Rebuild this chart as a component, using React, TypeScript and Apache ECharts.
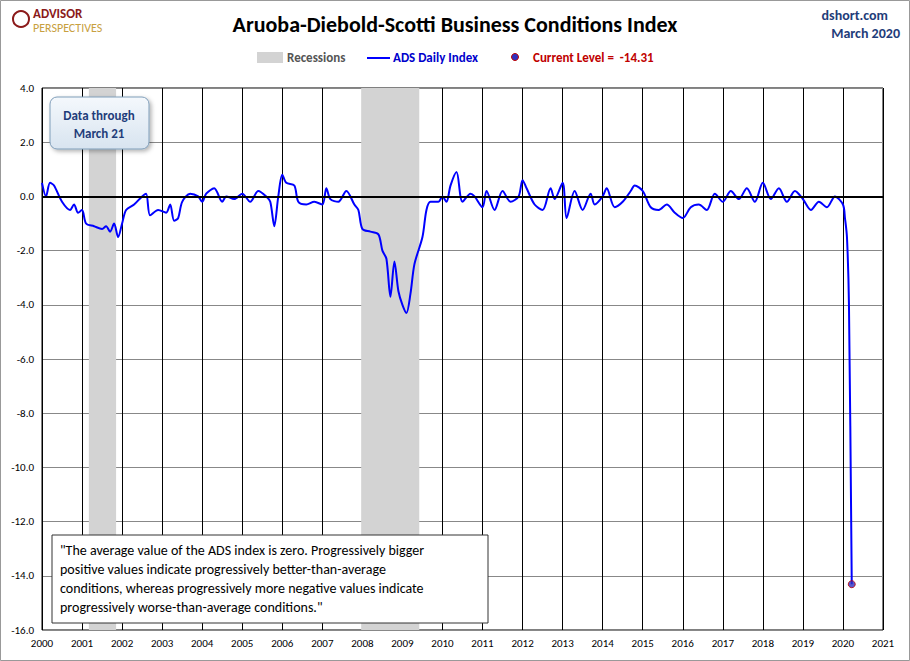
import React, { useEffect, useRef } from "react";
import * as echarts from "echarts";

const years = [2000, 2021];
const adsData: [number, number][] = [
[2000.0,0.5],[2000.1,0.0],[2000.2,0.5],[2000.3,0.4],[2000.5,-0.2],[2000.7,-0.5],[2000.8,-0.3],[2000.9,-0.6],[2001.0,-0.5],[2001.1,-1.0],[2001.3,-1.1],[2001.5,-1.2],[2001.6,-1.1],[2001.7,-1.3],[2001.8,-1.0],[2001.9,-1.5],[2002.0,-1.0],[2002.1,-0.5],[2002.3,-0.3],[2002.5,0.0],[2002.6,0.1],[2002.7,-0.7],[2002.9,-0.5],[2003.1,-0.6],[2003.2,-0.3],[2003.3,-0.9],[2003.4,-0.8],[2003.5,-0.2],[2003.7,0.1],[2003.9,0.0],[2004.0,-0.2],[2004.1,0.1],[2004.3,0.3],[2004.5,-0.2],[2004.6,0.0],[2004.8,-0.1],[2005.0,0.1],[2005.2,-0.2],[2005.4,0.2],[2005.6,0.0],[2005.7,-0.2],[2005.8,-1.1],[2005.9,0.0],[2006.0,0.8],[2006.1,0.5],[2006.3,0.4],[2006.4,-0.2],[2006.6,-0.3],[2006.8,-0.2],[2007.0,-0.3],[2007.1,0.3],[2007.2,-0.1],[2007.4,-0.2],[2007.6,0.2],[2007.8,-0.3],[2007.9,-0.5],[2008.0,-1.2],[2008.2,-1.3],[2008.4,-1.4],[2008.5,-2.0],[2008.6,-2.3],[2008.7,-3.7],[2008.8,-2.4],[2008.9,-3.5],[2009.0,-4.0],[2009.1,-4.3],[2009.2,-3.6],[2009.3,-2.5],[2009.5,-1.5],[2009.6,-0.5],[2009.7,-0.2],[2009.9,-0.2],[2010.0,0.0],[2010.1,-0.2],[2010.2,0.4],[2010.35,0.9],[2010.5,-0.2],[2010.7,0.1],[2010.8,0.0],[2011.0,-0.4],[2011.1,0.2],[2011.3,-0.5],[2011.5,0.2],[2011.7,-0.2],[2011.9,0.0],[2012.0,0.6],[2012.1,0.3],[2012.3,-0.3],[2012.5,-0.5],[2012.7,0.3],[2012.8,-0.1],[2013.0,0.5],[2013.1,-0.8],[2013.3,0.2],[2013.5,-0.5],[2013.7,0.1],[2013.8,-0.3],[2014.0,0.0],[2014.1,0.3],[2014.3,-0.4],[2014.5,-0.2],[2014.7,0.2],[2014.8,0.4],[2015.0,0.2],[2015.2,-0.4],[2015.4,-0.5],[2015.6,-0.3],[2015.8,-0.6],[2016.0,-0.8],[2016.2,-0.4],[2016.4,-0.3],[2016.6,-0.5],[2016.8,0.1],[2017.0,-0.2],[2017.2,0.2],[2017.4,-0.1],[2017.6,0.3],[2017.8,-0.2],[2018.0,0.5],[2018.2,-0.1],[2018.4,0.3],[2018.6,-0.2],[2018.8,0.2],[2019.0,-0.1],[2019.2,-0.5],[2019.4,-0.2],[2019.6,-0.4],[2019.8,0.0],[2020.0,-0.3],[2020.05,-0.8],[2020.1,-1.5],[2020.15,-4.0],[2020.22,-14.31]];
const recessions: [number, number][] = [[2001.17, 2001.85], [2007.97, 2009.42]];
const currentLevel: [number, number] = [2020.22, -14.31];

export default function App() {
  const ref = useRef<HTMLDivElement>(null);
  useEffect(() => {
    const chart = echarts.init(ref.current!, undefined, { renderer: "svg" });
    const font = "Calibri, 'Liberation Sans', Arial, sans-serif";
    chart.setOption({
      animation: false,
      backgroundColor: "#fff",
      textStyle: { fontFamily: font },
      grid: { left: 42, right: 27, top: 88, bottom: 31, show: true, borderColor: "#000", borderWidth: 1 },
      xAxis: {
        type: "value", min: years[0], max: years[1], interval: 1,
        axisLabel: { color: "#000", fontSize: 11, formatter: (v: number) => String(v) },
        axisLine: { show: false }, axisTick: { show: false },
        splitLine: { lineStyle: { color: "#000", width: 1 } },
      },
      yAxis: {
        type: "value", min: -16, max: 4, interval: 2,
        axisLabel: { color: "#000", fontSize: 11, formatter: (v: number) => v.toFixed(1) },
        axisLine: { show: false }, axisTick: { show: false },
        splitLine: { lineStyle: { color: "#888", width: 1 } },
      },
      series: [
        {
          type: "line", data: adsData, smooth: 0.3, showSymbol: false,
          lineStyle: { color: "#0000ff", width: 2 }, z: 3,
          markArea: { silent: true, itemStyle: { color: "#d3d3d3" },
            data: recessions.map(r => [{ xAxis: r[0] }, { xAxis: r[1] }]) },
          markLine: { silent: true, symbol: "none", label: { show: false },
            lineStyle: { color: "#000", width: 2, type: "solid" }, data: [{ yAxis: 0 }] },
        },
        {
          type: "scatter", data: [currentLevel], symbolSize: 7, z: 4,
          itemStyle: { color: "#3030c0", borderColor: "#c00000", borderWidth: 1 },
        },
      ],
      graphic: [
        { type: "rect", shape: { x: 0.5, y: 0.5, width: 909, height: 660 }, style: { fill: "none", stroke: "#999" } },
        { type: "text", x: 455, y: 13, style: { text: "Aruoba-Diebold-Scotti Business Conditions Index", font: `bold 22px ${font}`, fill: "#000", textAlign: "center" } },
        { type: "text", x: 888, y: 8, style: { text: "dshort.com", font: `bold 14px ${font}`, fill: "#1f3d7a", textAlign: "right" } },
        { type: "text", x: 900, y: 26, style: { text: "March 2020", font: `bold 14px ${font}`, fill: "#1f3d7a", textAlign: "right" } },
        { type: "circle", shape: { cx: 21, cy: 19, r: 8 }, style: { fill: "none", stroke: "#8b1a1a", lineWidth: 2 } },
        { type: "text", x: 33, y: 7, style: { text: "ADVISOR", font: `bold 13px ${font}`, fill: "#8b1a1a" } },
        { type: "text", x: 33, y: 22, style: { text: "PERSPECTIVES", font: `12px ${font}`, fill: "#c8a040" } },
        { type: "rect", shape: { x: 257, y: 52, width: 26, height: 11 }, style: { fill: "#d3d3d3" } },
        { type: "text", x: 287, y: 51, style: { text: "Recessions", font: `bold 13px ${font}`, fill: "#555" } },
        { type: "line", shape: { x1: 367, y1: 58, x2: 390, y2: 58 }, style: { stroke: "#0000ff", lineWidth: 2 } },
        { type: "text", x: 393, y: 51, style: { text: "ADS Daily Index", font: `bold 13px ${font}`, fill: "#0000cc" } },
        { type: "circle", shape: { cx: 515, cy: 57, r: 3.5 }, style: { fill: "#3030c0", stroke: "#c00000" } },
        { type: "text", x: 533, y: 51, style: { text: "Current Level =  -14.31", font: `bold 13px ${font}`, fill: "#c00000" } },
        { type: "rect", shape: { x: 50, y: 97, width: 99, height: 52, r: 7 }, z: 10,
          style: { fill: new echarts.graphic.LinearGradient(0, 0, 0, 1, [{ offset: 0, color: "#f4f8fc" }, { offset: 1, color: "#d8e4f0" }]), stroke: "#7f9db9", lineWidth: 1, shadowBlur: 4, shadowOffsetX: 2, shadowOffsetY: 2, shadowColor: "rgba(0,0,0,0.3)" } },
        { type: "text", x: 99, y: 106, z: 11, style: { text: "Data through\nMarch 21", font: `bold 13px ${font}`, lineHeight: 18, fill: "#1f3d7a", textAlign: "center" } },
        { type: "rect", shape: { x: 52, y: 535, width: 436, height: 88 }, z: 10, style: { fill: "#fff", stroke: "#333", lineWidth: 1 } },
        { type: "text", x: 60, y: 541, z: 11, style: { text: "\"The average value of the ADS index is zero. Progressively bigger\npositive values indicate progressively better-than-average\nconditions, whereas progressively more negative values indicate\nprogressively worse-than-average conditions.\"", font: `14px ${font}`, lineHeight: 19, fill: "#000" } },
      ],
    });
    return () => chart.dispose();
  }, []);
  return <div ref={ref} style={{ position: "absolute", left: 0, top: 0, width: 910, height: 661 }} />;
}
